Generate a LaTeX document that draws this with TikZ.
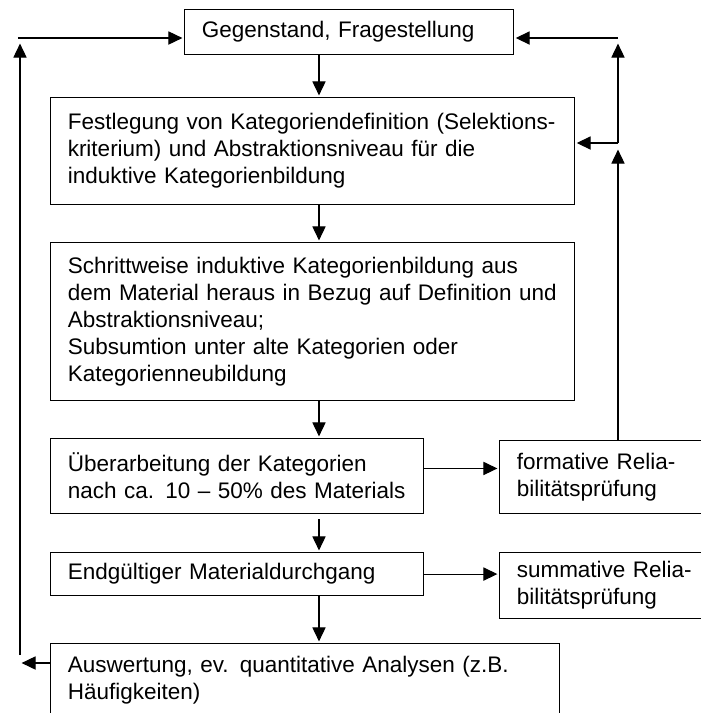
\documentclass[tikz,border=0pt]{standalone}
\usepackage{fontspec}
\setmainfont{Liberation Sans}
\usetikzlibrary{arrows.meta, positioning, calc}

\begin{document}
\begin{tikzpicture}[
    box/.style={draw, line width=0.8pt, anchor=north west, align=left, inner xsep=0.43cm, inner ysep=0pt, font=\fontsize{16}{19.2}\selectfont},
    signal/.style={-{Triangle[length=3.5mm, width=3.3mm]}, line width=0.8pt, shorten >=0.04cm}
]

% Page frame - fixes the margins
\useasboundingbox (0,0) rectangle (17.525,-17.825);

% Origin point and column of the main flow
\coordinate (origin) at (0,0);
\coordinate (flow) at ([xshift=7.975cm]origin);

% Top box
\node[box, text width=7.365cm, minimum height=1.125cm] (gegen) at ([xshift=4.6cm, yshift=-0.225cm]origin) {Gegenstand, Fragestellung};

% Definition box
\node[box, text width=12.24cm, minimum height=2.675cm] (festlegung) at ([xshift=1.25cm, yshift=-2.425cm]origin) {Festlegung von Kategoriendefinition (Selektions-\\kriterium) und Abstraktionsniveau für die\\induktive Kategorienbildung};

% Stepwise category building
\node[box, text width=12.24cm, minimum height=3.95cm] (schritt) at ([xshift=1.25cm, yshift=-6.05cm]origin) {Schrittweise induktive Kategorienbildung aus\\dem Material heraus in Bezug auf Definition und\\Abstraktionsniveau;\\Subsumtion unter alte Kategorien oder\\Kategorienneubildung};

% Revision and final pass
\node[box, text width=8.465cm, minimum height=1.875cm] (ueber) at ([xshift=1.25cm, yshift=-10.95cm]origin) {Überarbeitung der Kategorien\\nach ca. 10 -- 50\% des Materials};
\node[box, text width=8.465cm, minimum height=1.075cm] (endg) at ([xshift=1.25cm, yshift=-13.8cm]origin) {Endgültiger Materialdurchgang};

% Reliability checks - cut by the right edge
\node[box, text width=5.64cm, minimum height=1.825cm] (formativ) at ([xshift=12.475cm, yshift=-11cm]origin) {formative Relia-\\bilitätsprüfung};
\node[box, text width=5.64cm, minimum height=1.65cm] (summativ) at ([xshift=12.475cm, yshift=-13.8cm]origin) {summative Relia-\\bilitätsprüfung};

% Evaluation - cut by the bottom edge
\node[box, text width=11.865cm, minimum height=1.85cm] (ausw) at ([xshift=1.25cm, yshift=-16.075cm]origin) {Auswertung, ev. quantitative Analysen (z.B.\\Häufigkeiten)};

% Main flow downwards
\draw[signal] (gegen.south -| flow) -- (festlegung.north -| flow);
\draw[signal] (festlegung.south -| flow) -- (schritt.north -| flow);
\draw[signal] (schritt.south -| flow) -- (ueber.north -| flow);
\coordinate (gap) at ([yshift=-0.125cm]ueber.south -| flow);
\draw[signal] (gap) -- (endg.north -| flow);
\draw[signal] (endg.south -| flow) -- (ausw.north -| flow);

% Side branches to the reliability checks
\coordinate (uebout) at ([yshift=0.19cm]ueber.east);
\draw[signal] (uebout) -- (uebout -| formativ.west);
\draw[signal] (endg.east) -- (endg.east -| summativ.west);

% Feedback on the right
\coordinate (rjoin) at (15.45,-3.575);
\coordinate (rtop) at (15.45,-0.95);
\draw[signal] (formativ.north -| rjoin) -- ([yshift=-0.125cm]rjoin);
\draw[signal] (rjoin) -- (rjoin -| festlegung.east);
\draw[signal] (rjoin) -- ([yshift=-0.1cm]rtop);
\draw[signal] (rtop) -- (rtop -| gegen.east);

% Feedback on the left
\coordinate (lbot) at (0.5,-16.575);
\coordinate (lup) at (0.5,-1.05);
\coordinate (ltop) at (0.45,-0.95);
\draw[signal] (lbot -| ausw.west) -- (lbot);
\draw[signal] ([yshift=0.2cm]lbot) -- (lup);
\draw[signal] (ltop) -- (ltop -| gegen.west);

\end{tikzpicture}
\end{document}
